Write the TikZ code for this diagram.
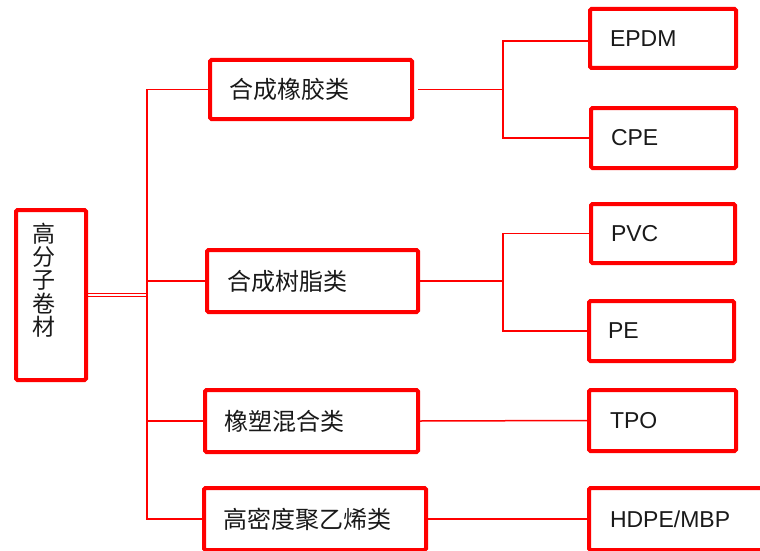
\documentclass[tikz,border=0pt]{standalone}
\usepackage{fontspec}
\setmainfont{Liberation Sans}
\newfontfamily\cjk{Noto Sans CJK SC}
\begin{document}
\begin{tikzpicture}[x=1pt,y=-1pt,
  box/.style={draw=red, line width=4pt, rounded corners=1.5pt, align=left,
    inner ysep=0pt, text=black!90, font=\fontsize{23}{27}\selectfont},
  cbox/.style={box, font=\cjk\fontsize{24}{28}\selectfont},
  link/.style={draw=red, line width=1.5pt}]
\useasboundingbox (0,0) rectangle (760,551);
% root
\node[box, minimum width=70pt, minimum height=170pt] (root) at (51,295) {};
\node[text=black!90, align=center, inner sep=0pt, font=\cjk\fontsize{23}{23.3}\selectfont] (roottxt) at (44,280) {高\\分\\子\\卷\\材};
% categories
\node[cbox, minimum width=202pt, minimum height=59pt, inner xsep=19pt, text width=164pt] (b1) at (311,89.5) {合成橡胶类};
\node[cbox, minimum width=211pt, minimum height=62pt, inner xsep=20pt, text width=171pt] (b2) at (312.5,281) {合成树脂类};
\node[cbox, minimum width=213pt, minimum height=62pt, inner xsep=19pt, text width=175pt] (b3) at (311.5,421) {橡塑混合类};
\node[cbox, minimum width=222pt, minimum height=62pt, inner xsep=19pt, text width=184pt] (b4) at (315,519) {高密度聚乙烯类};
% leaves
\node[box, minimum width=146pt, minimum height=59pt, inner xsep=20pt, text width=106pt] (epdm) at (663,38.5) {EPDM};
\node[box, minimum width=145pt, minimum height=60pt, inner xsep=20pt, text width=105pt] (cpe) at (663.5,138) {CPE};
\node[box, minimum width=144pt, minimum height=59pt, inner xsep=20pt, text width=104pt] (pvc) at (663,233.5) {PVC};
\node[box, minimum width=145pt, minimum height=60pt, inner xsep=19pt, text width=107pt] (pe) at (661.5,331) {PE};
\node[box, minimum width=147pt, minimum height=61pt, inner xsep=21pt, text width=105pt] (tpo) at (662.5,420.5) {TPO};
\node[box, minimum width=200pt, minimum height=62pt, inner xsep=21pt, text width=158pt] (hdpe) at (689,519) {HDPE/MBP};
% connectors
\coordinate (sp) at (147,297);
\coordinate (j1) at (503,0);
\draw[link] (b1.west) -| (sp) |- (b4.west);
\draw[link] (sp |- b2.west) -- (b2.west);
\draw[link] (sp |- b3.west) -- (b3.west);
\draw[link] ([yshift=1.6pt]root.east) -- ([yshift=1.6pt]root.east -| sp);
\draw[link] ([yshift=-1.6pt]root.east) -- ([yshift=-1.6pt]root.east -| sp);
\draw[link] ([xshift=4pt]b1.east) -- (b1.east -| j1);
\draw[link] ([yshift=-2.5pt]epdm.west) -| (j1 |- cpe.west) -- (cpe.west);
\draw[link] (b2.east) -- (b2.east -| j1);
\draw[link] (pvc.west) -| (j1 |- pe.west) -- (pe.west);
\draw[link] (b3.east) -- (tpo.west);
\draw[link] (b4.east) -- (hdpe.west);
\end{tikzpicture}
\end{document}
